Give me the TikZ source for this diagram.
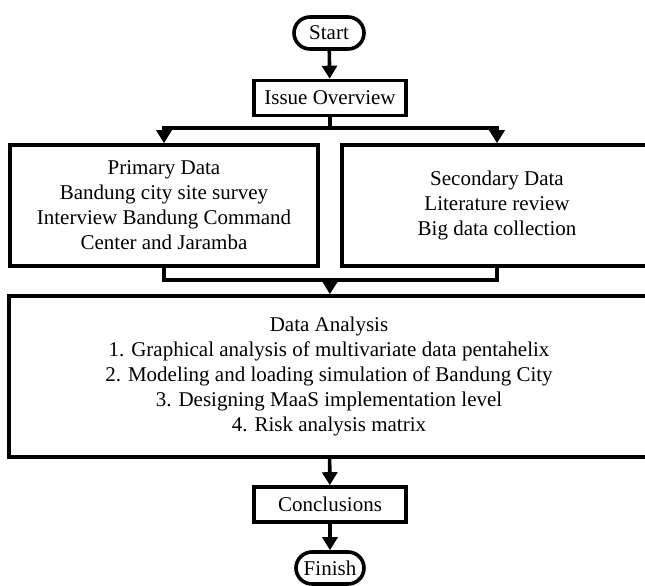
\documentclass[tikz,border=0pt]{standalone}
\usepackage{fontspec}
\setmainfont{Liberation Serif}
\usetikzlibrary{arrows.meta}

\tikzset{
  box/.style={draw, line width=3.6pt, align=center, inner sep=0pt,
    font=\fontsize{21}{25}\selectfont},
  term/.style={box, rounded corners=16pt},
  link/.style={line width=3.6pt},
  flow/.style={link, -{Triangle[length=13pt,width=15pt]}},
}

\begin{document}
\begin{tikzpicture}[x=1pt,y=-1pt]
\useasboundingbox (0,0) rectangle (645,586);

\node[term, minimum width=70, minimum height=32] (start) at (329,33) {Start};
\node[box, minimum width=152, minimum height=35] (issue) at (330,98) {Issue Overview};
\node[box, minimum width=308, minimum height=121] (primary) at (164,205.5)
  {Primary Data\\Bandung city site survey\\Interview Bandung Command\\Center and Jaramba};
\node[box, minimum width=310, minimum height=121] (secondary) at (497,205.5)
  {Secondary Data\\Literature review\\Big data collection};
\node[box, minimum width=640, minimum height=161] (analysis) at (329,376.5)
  {Data Analysis\\1. Graphical analysis of multivariate data pentahelix\\
   2. Modeling and loading simulation of Bandung City\\
   3. Designing MaaS implementation level\\4. Risk analysis matrix};
\node[box, minimum width=152, minimum height=35] (concl) at (330,504.5) {Conclusions};
\node[term, minimum width=68, minimum height=32] (finish) at (330,568) {Finish};

\coordinate (split) at (330,128);
\coordinate (merge) at (330,280);

\draw[flow] (start) -- (issue);
\draw[link] (issue) -- (split);
\foreach \n in {primary,secondary}
  \draw[flow] (split) -| (\n);
\draw[link] (primary) |- (merge) -| (secondary);
\draw[flow] (merge) -- (analysis);
\draw[flow] (analysis) -- (concl);
\draw[flow] (concl) -- (finish);

\end{tikzpicture}
\end{document}
